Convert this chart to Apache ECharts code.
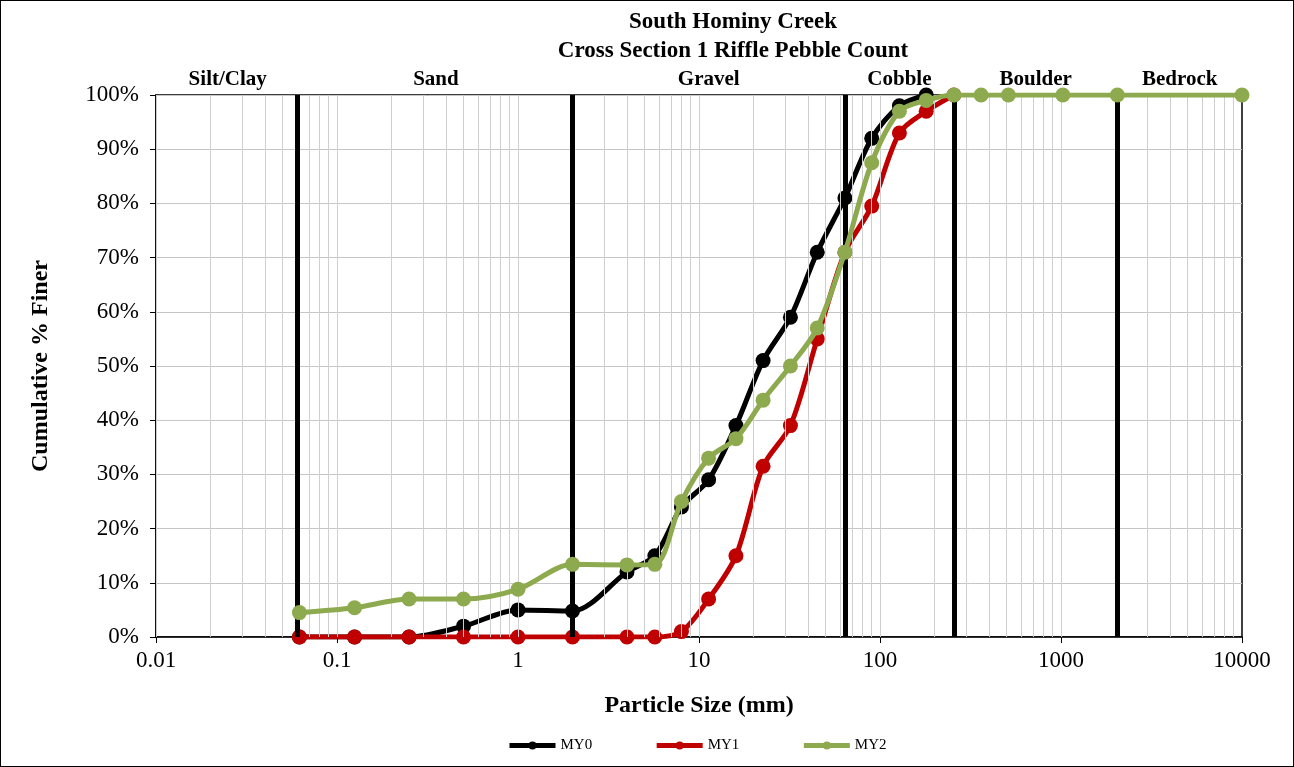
<!DOCTYPE html>
<html><head><meta charset="utf-8">
<script src="https://cdn.jsdelivr.net/npm/echarts@6/dist/echarts.min.js"></script>
<style>html,body{margin:0;padding:0;background:#fff}#c{width:1294px;height:767px;box-sizing:border-box;border:1px solid #000}</style>
</head><body><div id="c"></div><script>
// Particle sizes (mm)
const sizes = [0.062,0.125,0.25,0.5,1,2,4,5.7,8,11.3,16,22.6,32,45,64,90,128,180,256,362,512,1024,2048,10000];
// Cumulative % finer
const MY0 = [0,0,0,2,5,4.8,12,15,24,29,39,51,59,71,81,92,98,100];
const MY1 = [0,0,0,0,0,0,0,0,1,7,15,31.5,39,55,71,79.5,93,97,100];
const MY2 = [4.5,5.4,7,7,8.8,13.4,13.3,13.4,25,33,36.6,43.7,50,57,71,87.5,97,99,100,100,100,100,100,100];
const seriesNames = ['MY0','MY1','MY2'];
const seriesColors = ['#000000','#c00000','#8eaa4f'];
// Size-class zones
const zoneNames = ['Silt/Clay','Sand','Gravel','Cobble','Boulder','Bedrock'];
const zoneBounds = [0.01,0.062,2,64,256,2048,10000];
const xTickLabels = ['0.01','0.1','1','10','100','1000','10000'];

const FONT = 'Liberation Serif';
const minorGrid = [];
for (let d = 0.01; d < 10000; d *= 10) {
  for (let m = 1; m <= 9; m++) minorGrid.push(+(d*m).toPrecision(6));
}
const pairs = arr => arr.map((v,i)=>[sizes[i], v]);
const dataSets = [MY0, MY1, MY2];

const chart = echarts.init(document.getElementById('c'), null, {renderer:'canvas'});
const option = {
  animation:false,
  backgroundColor:'#fff',
  title:{
    text:'South Hominy Creek\nCross Section 1 Riffle Pebble Count',
    left:727, top:2, textAlign:'center',
    textStyle:{fontFamily:FONT,fontWeight:'bold',fontSize:23,lineHeight:29,color:'#000'}
  },
  legend:{
    data:seriesNames, left:501, top:732, itemWidth:46, itemHeight:10, itemGap:62,
    lineStyle:{width:5},
    textStyle:{fontFamily:FONT,fontSize:15,color:'#000'}
  },
  grid:{left:155,right:51,top:94,bottom:129,show:true,borderColor:'#000',borderWidth:1.5,backgroundColor:'transparent'},
  xAxis:{
    type:'log', logBase:10, min:0.01, max:10000, splitNumber:6,
    name:'Particle Size (mm)', nameLocation:'middle', nameGap:57,
    nameTextStyle:{fontFamily:FONT,fontWeight:'bold',fontSize:24,color:'#000'},
    axisLine:{show:true,lineStyle:{color:'#000',width:1.5}},
    axisTick:{show:true,length:6,lineStyle:{color:'#000'}},
    splitLine:{show:false},
    axisLabel:{fontFamily:FONT,fontSize:23,color:'#000',margin:12,showMinLabel:true,showMaxLabel:true,
      formatter:v=>String(+(+v).toPrecision(6))}
  },
  yAxis:{
    type:'value', min:0, max:100, interval:10,
    name:'Cumulative % Finer', nameLocation:'middle', nameGap:103,
    nameTextStyle:{fontFamily:FONT,fontWeight:'bold',fontSize:24,color:'#000'},
    axisLine:{show:true,lineStyle:{color:'#000',width:1.5}},
    axisTick:{show:true,length:6,lineStyle:{color:'#000'}},
    splitLine:{show:true,lineStyle:{color:'#c6c6c6',width:1}},
    axisLabel:{fontFamily:FONT,fontSize:23,color:'#000',margin:17,formatter:'{value}%'}
  },
  series:[
    {
      type:'line', name:'_grid', data:[], z:1, silent:true, legendHoverLink:false,
      markLine:{silent:true,symbol:'none',animation:false,label:{show:false},
        lineStyle:{color:'#cfcfcf',width:1,type:'solid'},
        data:minorGrid.map(v=>({xAxis:v}))}
    },
    {
      type:'line', name:'_zones', data:[], z:2, silent:true,
      markLine:{silent:true,symbol:'none',animation:false,label:{show:false},
        lineStyle:{color:'#000',width:5,type:'solid'},
        data:zoneBounds.slice(1,-1).map(v=>({xAxis:v}))},
      markArea:{silent:true,itemStyle:{color:'rgba(0,0,0,0)'},
        label:{show:true,position:'top',distance:5,fontFamily:FONT,fontWeight:'bold',fontSize:21,color:'#000'},
        data:zoneNames.map((n,i)=>[{name:n,xAxis:zoneBounds[i],yAxis:0},{xAxis:zoneBounds[i+1],yAxis:100}])}
    },
    ...seriesNames.map((n,k)=>({
      type:'line', name:n, z:3+k, smooth:0.3,
      data:pairs(dataSets[k]),
      symbol:'circle', symbolSize:15,
      lineStyle:{color:seriesColors[k],width:5},
      itemStyle:{color:seriesColors[k]}
    }))
  ]
};
chart.setOption(option);
</script></body></html>
